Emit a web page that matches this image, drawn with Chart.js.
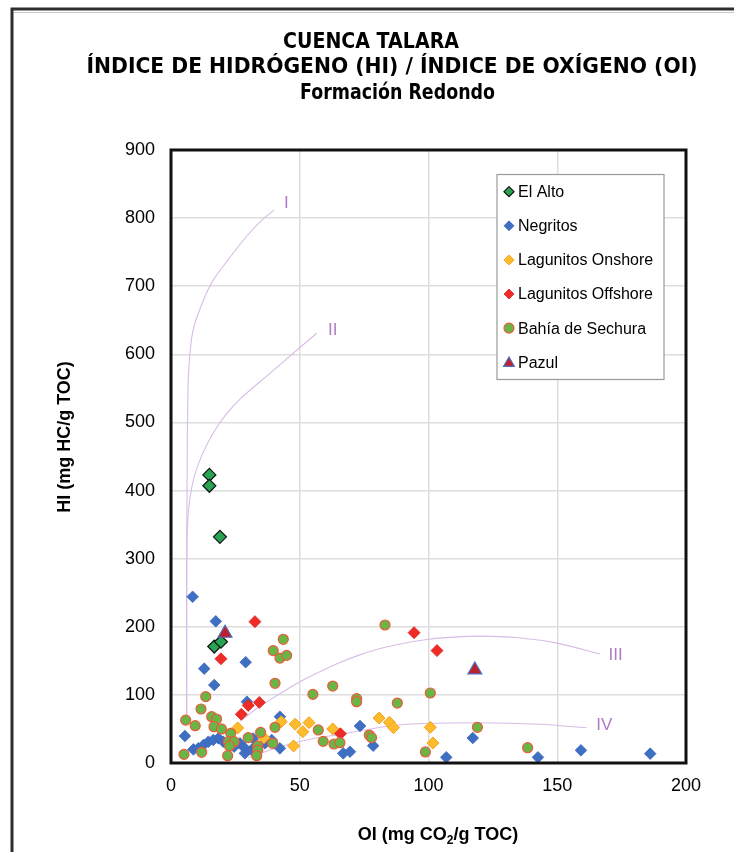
<!DOCTYPE html>
<html>
<head>
<meta charset="utf-8">
<script src="https://cdn.jsdelivr.net/npm/chart.js@4.4.1/dist/chart.umd.min.js"></script>
<style>
html,body{margin:0;padding:0;background:#fff;}
canvas{display:block;}
</style>
</head>
<body>
<canvas id="c" width="734" height="852"></canvas>
<script>
// ---------- Text ----------
const titleLines = ["CUENCA TALARA", "ÍNDICE DE HIDRÓGENO (HI) / ÍNDICE DE OXÍGENO (OI)", "Formación Redondo"];
const yAxisTitle = "HI (mg HC/g TOC)";
const xAxisTitleParts = ["OI (mg CO", "2", "/g TOC)"];

// ---------- Axis ticks ----------
const xTickValues = [0, 50, 100, 150, 200];
const yTickValues = [0, 100, 200, 300, 400, 500, 600, 700, 800, 900];

// ---------- Series ----------
const seriesNames = ["El Alto", "Negritos", "Lagunitos Onshore", "Lagunitos Offshore", "Bahía de Sechura", "Pazul"];

const elAltoOI = [14.9, 14.9, 19.0, 16.8, 19.4];
const elAltoHI = [423, 407, 332, 171, 178];

const negritosOI = [8.4, 17.4, 29.0, 12.9, 16.8, 29.5, 42.3, 5.4, 8.7, 10.6, 12.6, 14.5, 16.4, 18.4, 20.3, 22.5, 24.5, 26.8, 28.7, 28.7, 31.3, 32.6, 31.9, 36.5, 39.1, 42.3, 73.4, 66.9, 69.5, 78.5, 117.2, 106.9, 142.5, 159.2, 186.1];
const negritosHI = [244, 208, 148, 138.5, 114.5, 90, 68, 39.6, 20, 21.5, 26.4, 31.3, 33.8, 36.2, 31.3, 26, 24, 28.9, 21.5, 14.2, 19, 24, 36, 28.9, 33.8, 21.5, 54.3, 14.2, 16.6, 25.4, 36.7, 8.3, 8.3, 18.6, 13.7];

const onshoreOI = [25.9, 36.1, 42.8, 48.2, 51.2, 53.6, 62.8, 47.6, 80.8, 84.8, 86.4, 100.7, 101.7];
const onshoreHI = [51.5, 37, 60.7, 57, 46, 59.2, 50, 25, 66, 59.7, 51.9, 52.4, 29.4];

const offshoreOI = [32.6, 19.4, 34.3, 30.0, 27.3, 65.8, 94.4, 103.3];
const offshoreHI = [207.5, 153, 89, 84.5, 71.5, 43, 191.4, 165];

const sechuraOI = [5.7, 9.4, 11.65, 13.5, 15.8, 17.7, 16.7, 19.6, 23.2, 22.3, 24.5, 22.7, 22.0, 5.05, 11.9, 30.0, 34.8, 33.7, 33.7, 33.3, 39.5, 40.4, 57.2, 59.1, 63.3, 65.6, 55.1, 62.8, 40.4, 43.6, 39.7, 42.3, 44.9, 72.1, 72.1, 83.1, 100.7, 87.9, 119.0, 77.0, 77.9, 98.8, 138.5];
const sechuraHI = [63, 54.8, 79.3, 97.4, 68, 64.6, 53.3, 50, 43.6, 31.3, 31.3, 25, 10.7, 12.7, 15.7, 37.2, 45, 25, 19, 10.7, 28.9, 52.4, 48.5, 31.8, 27.9, 29.8, 100.8, 113, 117, 181.6, 165, 154, 158, 94.4, 90, 202.6, 102.8, 88, 52.4, 41, 37.2, 16.2, 22.5];

const pazulOI = [21.0, 118.0];
const pazulHI = [190.5, 136.6];

// ---------- Kerogen type curves ----------
const curveIOI = [6.1, 6.1, 6.3, 6.7, 7.6, 8.6, 10.6, 13.2, 16.4, 22.0, 29.3, 35.0, 40.1];
const curveIHI = [65, 268.7, 450, 562, 611, 636, 660, 685, 709, 738, 773, 796, 812];
const curveIIOI = [6.1, 6.1, 6.3, 7.2, 9.0, 12.0, 16.0, 21.0, 27.0, 38.4, 48.8, 56.6];
const curveIIHI = [65, 250, 340, 385, 420, 452, 482, 510, 535, 572, 606, 631];
const curveIIIOI = [27.0, 30.0, 33.9, 40.4, 50.1, 59.8, 66.3, 72.7, 79.2, 88.0, 100.0, 110.0, 120.0, 135.0, 150.0, 166.6];
const curveIIIHI = [62, 70.5, 81.8, 97.4, 119.4, 137.5, 148.5, 158, 166, 174, 181.6, 184.8, 186.3, 184, 176, 160];
const curveIVOI = [30.0, 34.6, 42.3, 54.0, 65.6, 85.0, 100.0, 120.0, 143.3, 161.4];
const curveIVHI = [8, 14, 24, 34.8, 42, 54.3, 58.3, 59.2, 56.8, 51.8];
const curveLabels = ["I", "II", "III", "IV"];
const curveLabelOI = [44.8, 62.8, 172.7, 168.3];
const curveLabelHI = [822, 636, 158.6, 55.8];

// ---------- Build datasets ----------
function pts(xs, ys) { return xs.map((x, i) => ({ x: x, y: ys[i] })); }

const markerSets = [
  { label: seriesNames[0], data: pts(elAltoOI, elAltoHI), pointStyle: 'rectRot', pointRadius: 6.5, backgroundColor: '#27a353', borderColor: '#141414', borderWidth: 1.2, order: 1, legendRadius: 5 },
  { label: seriesNames[1], data: pts(negritosOI, negritosHI), pointStyle: 'rectRot', pointRadius: 5.8, backgroundColor: '#3f6fc2', borderColor: '#3a69bd', borderWidth: 0.8, order: 6, legendRadius: 5 },
  { label: seriesNames[2], data: pts(onshoreOI, onshoreHI), pointStyle: 'rectRot', pointRadius: 6, backgroundColor: '#fdbb2d', borderColor: '#f2a31c', borderWidth: 1, order: 5, legendRadius: 5 },
  { label: seriesNames[3], data: pts(offshoreOI, offshoreHI), pointStyle: 'rectRot', pointRadius: 6, backgroundColor: '#ee2b26', borderColor: '#e02420', borderWidth: 0.8, order: 4, legendRadius: 5 },
  { label: seriesNames[4], data: pts(sechuraOI, sechuraHI), pointStyle: 'circle', pointRadius: 5, backgroundColor: '#69b646', borderColor: '#ec5a3c', borderWidth: 1.2, order: 3, legendRadius: 5 },
  { label: seriesNames[5], data: pts(pazulOI, pazulHI), pointStyle: 'triangle', pointRadius: 8, backgroundColor: '#c01f2c', borderColor: '#4b6fc0', borderWidth: 1.2, order: 0, legendRadius: 6.2 }
];
markerSets.forEach(d => { d.showLine = false; d.pointHoverRadius = d.pointRadius; d.isMarker = true; });

const curveColor = '#d8bde6';
const curveSets = [
  pts(curveIOI, curveIHI), pts(curveIIOI, curveIIHI), pts(curveIIIOI, curveIIIHI), pts(curveIVOI, curveIVHI)
].map((d, i) => ({
  label: 'Tipo ' + curveLabels[i], data: d, showLine: true, pointRadius: 0, pointHoverRadius: 0,
  borderColor: curveColor, borderWidth: 1.1, fill: false, order: 10, isMarker: false,
  tension: i < 2 ? 0.35 : 0, cubicInterpolationMode: i < 2 ? 'default' : 'monotone'
}));

// ---------- Decorations plugin ----------
const decor = {
  id: 'decor',
  beforeDraw(chart) {
    const ctx = chart.ctx;
    ctx.save();
    ctx.fillStyle = '#ffffff';
    ctx.fillRect(0, 0, chart.width, chart.height);
    ctx.restore();
  },
  afterDatasetsDraw(chart) {
    const ctx = chart.ctx, xs = chart.scales.x, ys = chart.scales.y;
    ctx.save();
    ctx.fillStyle = '#b07cc6';
    ctx.font = '17px "Liberation Sans", Arial, sans-serif';
    ctx.textAlign = 'center';
    ctx.textBaseline = 'middle';
    curveLabels.forEach((t, i) => {
      ctx.fillText(t, xs.getPixelForValue(curveLabelOI[i]), ys.getPixelForValue(curveLabelHI[i]));
    });
    ctx.restore();
  },
  afterDraw(chart) {
    const ctx = chart.ctx, ca = chart.chartArea;
    ctx.save();
    // outer frame (top and left edges)
    ctx.strokeStyle = '#c8c8c8';
    ctx.lineWidth = 1;
    ctx.beginPath(); ctx.moveTo(14, 12.5); ctx.lineTo(chart.width, 12.5); ctx.stroke();
    ctx.strokeStyle = '#2e2e2e';
    ctx.lineWidth = 3;
    ctx.beginPath(); ctx.moveTo(12, chart.height); ctx.lineTo(12, 9); ctx.lineTo(chart.width, 9); ctx.stroke();
    // plot frame
    ctx.strokeStyle = '#111111';
    ctx.lineWidth = 3;
    ctx.strokeRect(ca.left, ca.top, ca.right - ca.left, ca.bottom - ca.top);

    // titles
    ctx.fillStyle = '#000';
    ctx.textAlign = 'center';
    ctx.textBaseline = 'middle';
    ctx.font = 'bold 20px "DejaVu Sans", sans-serif';
    const w2 = ctx.measureText(titleLines[1]).width;
    const tsize = 20 * 611 / w2;
    ctx.font = 'bold ' + tsize.toFixed(2) + 'px "DejaVu Sans", sans-serif';
    const tcx = [371, 392, 397.5];
    const tcy = [43, 68, 94];
    const tw = [176, 611, 195];
    titleLines.forEach((t, i) => {
      const w = ctx.measureText(t).width;
      ctx.save();
      ctx.translate(tcx[i], tcy[i]);
      ctx.scale(tw[i] / w, 1);
      ctx.fillText(t, 0, 0);
      ctx.restore();
    });

    // y axis title
    ctx.save();
    ctx.translate(65, 437);
    ctx.rotate(-Math.PI / 2);
    ctx.font = 'bold 18px "Liberation Sans", Arial, sans-serif';
    ctx.fillText(yAxisTitle, 0, 0);
    ctx.restore();

    // x axis title with subscript
    const big = 'bold 18px "Liberation Sans", Arial, sans-serif';
    const small = 'bold 12px "Liberation Sans", Arial, sans-serif';
    ctx.textAlign = 'left';
    ctx.textBaseline = 'alphabetic';
    ctx.font = big; const a = ctx.measureText(xAxisTitleParts[0]).width;
    ctx.font = small; const b = ctx.measureText(xAxisTitleParts[1]).width;
    ctx.font = big; const c = ctx.measureText(xAxisTitleParts[2]).width;
    const x0 = 438 - (a + b + c) / 2;
    const base = 840;
    ctx.font = big; ctx.fillText(xAxisTitleParts[0], x0, base);
    ctx.font = small; ctx.fillText(xAxisTitleParts[1], x0 + a, base + 4);
    ctx.font = big; ctx.fillText(xAxisTitleParts[2], x0 + a + b, base);

    // legend
    const lx = 497, ly = 174.5, lw = 167, lh = 205;
    ctx.fillStyle = '#ffffff';
    ctx.fillRect(lx, ly, lw, lh);
    ctx.strokeStyle = '#9a9a9a';
    ctx.lineWidth = 1.2;
    ctx.strokeRect(lx, ly, lw, lh);
    const rowY0 = 191.7, rowStep = 34.1;
    ctx.font = '16px "Liberation Sans", Arial, sans-serif';
    ctx.textBaseline = 'middle';
    let row = 0;
    chart.data.datasets.forEach(ds => {
      if (!ds.isMarker) return;
      const y = rowY0 + row * rowStep;
      ctx.save();
      ctx.fillStyle = ds.backgroundColor;
      ctx.strokeStyle = ds.borderColor;
      ctx.lineWidth = ds.borderWidth;
      Chart.helpers.drawPoint(ctx, { pointStyle: ds.pointStyle, radius: ds.legendRadius, rotation: 0, borderWidth: ds.borderWidth }, 509, y + (ds.pointStyle === 'triangle' ? 1 : 0));
      ctx.restore();
      ctx.fillStyle = '#000';
      ctx.textAlign = 'left';
      ctx.fillText(ds.label, 518, y + 1);
      row++;
    });
    ctx.restore();
  }
};

const tickFont = { family: '"Liberation Sans", Arial, sans-serif', size: 18 };

new Chart(document.getElementById('c').getContext('2d'), {
  type: 'scatter',
  data: { datasets: markerSets.concat(curveSets) },
  options: {
    responsive: false,
    animation: false,
    devicePixelRatio: 1,
    events: [],
    layout: { padding: { left: 0, right: 48, top: 150, bottom: 49 } },
    plugins: { legend: { display: false }, title: { display: false }, tooltip: { enabled: false } },
    scales: {
      x: {
        type: 'linear',
        min: xTickValues[0], max: xTickValues[xTickValues.length - 1],
        ticks: { stepSize: xTickValues[1] - xTickValues[0], color: '#000', font: tickFont, padding: 12, maxRotation: 0 },
        grid: { color: '#dddddd', lineWidth: 1.5, drawTicks: false },
        border: { display: false },
        afterFit(s) { s.height = 40; }
      },
      y: {
        type: 'linear',
        min: yTickValues[0], max: yTickValues[yTickValues.length - 1],
        ticks: { stepSize: yTickValues[1] - yTickValues[0], color: '#000', font: tickFont, padding: 16 },
        grid: { color: '#dddddd', lineWidth: 1.5, drawTicks: false },
        border: { display: false },
        afterFit(s) { s.width = 171; }
      }
    }
  },
  plugins: [decor]
});
</script>
</body>
</html>
